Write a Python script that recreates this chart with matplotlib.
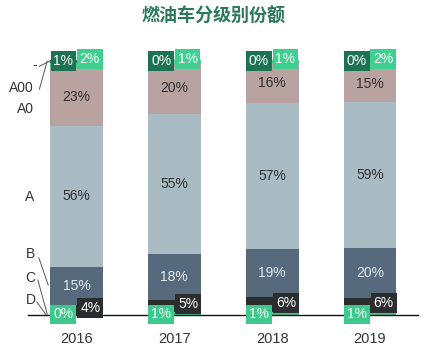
import matplotlib
matplotlib.use("Agg")
import matplotlib.pyplot as plt
import numpy as np

# ---- data ----
years = ['2016', '2017', '2018', '2019']
seg_names = ['D', 'C', 'B', 'A', 'A0', 'A00', '-']
D = [0, 1, 1, 1]
C = [4, 5, 6, 6]
B = [15, 18, 19, 20]
A = [56, 55, 57, 59]
A0 = [23, 20, 16, 15]
A00 = [2, 1, 1, 2]
DASH = [1, 0, 0, 0]
title = '燃油车分级别份额'

colors = {
    'D': '#3cc98b',
    'C': '#2c2d2f',
    'B': '#57697d',
    'A': '#a9bcc3',
    'A0': '#b8a3a0',
    'A00': '#3fcf8f',
    '-': '#1b7352',
}

series = [D, C, B, A, A0, A00, DASH]
vals = np.array(series, dtype=float)
totals = vals.sum(axis=0)
heights = vals / totals * 100

plt.rcParams['font.family'] = ['Liberation Sans', 'DejaVu Sans']

W, H = 427, 357
fig = plt.figure(figsize=(W / 100, H / 100), dpi=100)
ax = fig.add_axes([28 / W, 42 / H, 390 / W, 255 / H])

x = np.arange(len(years))
bw = 0.54
bottom = np.zeros(len(years))
for name, h in zip(seg_names, heights):
    ax.bar(x, h, bw, bottom=bottom, color=colors[name], linewidth=0)
    bottom = bottom + h

ax.set_xlim(-0.496, 3.49)
ax.set_ylim(0, 100)
ax.set_yticks([])
ax.set_xticks(x)
ax.set_xticklabels(years, fontsize=10.5, color='#333333')
ax.tick_params(axis='x', length=0, pad=12)
for s in ['top', 'right', 'left']:
    ax.spines[s].set_visible(False)
ax.spines['bottom'].set_color('#111111')
ax.spines['bottom'].set_linewidth(1.0)
ax.spines['bottom'].set_zorder(6)

cum = np.cumsum(heights, axis=0)
starts = cum - heights

lbl_font = dict(fontsize=10, family=['Liberation Sans Narrow', 'Liberation Sans', 'DejaVu Sans'])

# in-bar labels for B, A, A0
inbar = {'B': '#e4eaf0', 'A': '#2f2f2f', 'A0': '#2f2f2f'}
for name, tc in inbar.items():
    i = seg_names.index(name)
    for j in range(len(years)):
        yc = starts[i, j] + heights[i, j] / 2
        ax.text(x[j], yc, f'{series[i][j]}%', ha='center', va='center',
                color=tc, **lbl_font)

def box(xx, yy, txt, fc):
    ax.text(xx, yy, txt, ha='center', va='center', color='white',
            bbox=dict(boxstyle='square,pad=0.2', fc=fc, ec='none'),
            clip_on=False, zorder=8, **lbl_font)

iD, iC, iA00, iDash = (seg_names.index(n) for n in ['D', 'C', 'A00', '-'])
for j in range(len(years)):
    top = cum[-1, j]
    box(x[j] - 0.135, top - 0.5, f'{DASH[j]}%', colors['-'])
    box(x[j] + 0.135, top + 0.3, f'{A00[j]}%', colors['A00'])
    box(x[j] - 0.135, 0.2, f'{D[j]}%', colors['D'])
    box(x[j] + 0.14, starts[iC, j] + heights[iC, j] / 2 + 0.8, f'{C[j]}%', colors['C'])

# left category labels with leader lines (first bar)
left_edge = x[0] - bw / 2
lab_font = dict(fontsize=10, color='#333333', ha='right', va='center')
lab_pos = {'-': (-0.40, 98.0), 'A00': (-0.44, 89.0), 'A0': (-0.44, 80.8),
           'A': (-0.43, 46.3), 'B': (-0.42, 24.0), 'C': (-0.42, 14.5),
           'D': (-0.42, 5.9)}
for name, (lx, ly) in lab_pos.items():
    ax.text(lx, ly, name, clip_on=False, **lab_font)

line_kw = dict(color='#555555', lw=0.7, clip_on=False)
i = seg_names.index('-')
ax.plot([-0.38, left_edge], [97.5, cum[i, 0] - 0.3], **line_kw)
i = seg_names.index('A00')
ax.plot([-0.38, left_edge - 0.03], [88.5, starts[i, 0] + heights[i, 0] / 2 + 1.5], **line_kw)
ax.plot([-0.385, left_edge - 0.02], [22.4, 11.8], **line_kw)
ax.plot([-0.395, left_edge - 0.03], [13.7, 0.4], **line_kw)
ax.plot([-0.405, left_edge - 0.04], [5.1, 0.0], **line_kw)

fig.text(0.5, 1 - 16 / H, title, ha='center', va='center', fontsize=13,
         fontweight='bold', color='#2b7a5a',
         family=['Noto Sans CJK SC', 'DejaVu Sans'])

fig.savefig('out.png', dpi=100)
